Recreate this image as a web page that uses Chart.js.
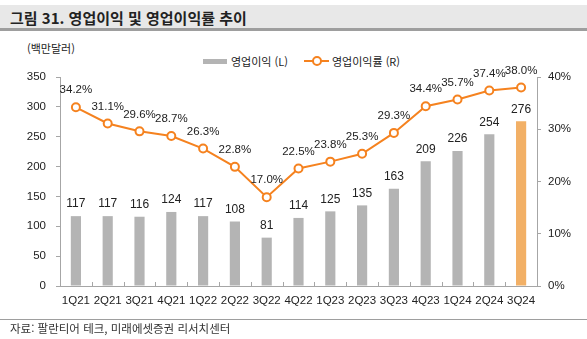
<!DOCTYPE html>
<html lang="ko">
<head>
<meta charset="utf-8">
<script src="https://cdn.jsdelivr.net/npm/chart.js@4.4.1/dist/chart.umd.min.js"></script>
<style>
  html, body { margin: 0; padding: 0; background: #fff; }
  body { width: 587px; height: 339px; position: relative; overflow: hidden;
         font-family: 'Liberation Sans', 'Noto Sans CJK KR', sans-serif; color: #222; }
  #chart { position: absolute; left: 0; top: 0; }
  .title { position: absolute; left: 0; top: 5px; width: 587px; height: 26px;
           background: #e8e8e8; border-bottom: 3px solid #9e9e9e;
           font-family: 'Noto Sans CJK KR', sans-serif; font-weight: bold; font-size: 15px;
           line-height: 26px; padding-left: 10px; box-sizing: border-box; }
  .unit { position: absolute; left: 27px; top: 40px; font-size: 11px;
          font-family: 'Noto Sans CJK KR', sans-serif; }
  .legend { position: absolute; left: 203px; top: 51px; font-size: 11px; white-space: nowrap;
            font-family: 'Noto Sans CJK KR', sans-serif; }
  .legend span { display: inline-block; vertical-align: middle; }
  .sw-bar { width: 24px; height: 5px; background: #b4b4b4; margin-right: 4px; }
  .sw-line { width: 25px; height: 2px; background: #f5821f; position: relative; margin: 0 3px 0 16px; }
  .sw-line::after { content: ''; position: absolute; left: 8px; top: -4px; width: 6px; height: 6px;
                    border: 2px solid #f5821f; border-radius: 50%; background: #fff; }
  .sep { position: absolute; left: 0; top: 319px; width: 587px; height: 1px; background: #9e9e9e; }
  .source { position: absolute; left: 10px; top: 320px; font-size: 11.5px;
            font-family: 'Noto Sans CJK KR', sans-serif; color: #333; }
</style>
</head>
<body>
<div class="title">그림 31. 영업이익 및 영업이익률 추이</div>
<div class="unit">(백만달러)</div>
<div class="legend"><span class="sw-bar"></span><span>영업이익 (L)</span><span class="sw-line"></span><span>영업이익률 (R)</span></div>
<canvas id="chart" width="587" height="339"></canvas>
<div class="sep"></div>
<div class="source">자료: 팔란티어 테크, 미래에셋증권 리서치센터</div>
<script>
const quarters = ['1Q21', '2Q21', '3Q21', '4Q21', '1Q22', '2Q22', '3Q22', '4Q22',
                  '1Q23', '2Q23', '3Q23', '4Q23', '1Q24', '2Q24', '3Q24'];
const operatingIncome = [117, 117, 116, 124, 117, 108, 81, 114, 125, 135, 163, 209, 226, 254, 276];
const operatingMargin = [34.2, 31.1, 29.6, 28.7, 26.3, 22.8, 17.0, 22.5, 23.8, 25.3, 29.3, 34.4, 35.7, 37.4, 38.0];
const leftTicks = { min: 0, max: 350, step: 50 };
const rightTicks = { min: 0, max: 40, step: 10 };

const GREY = '#b4b4b4';
const HIGHLIGHT = '#f2b066';
const ORANGE = '#f5821f';
const AXIS = '#a6a6a6';
const NUM_FONT = "'Liberation Sans', Arial, sans-serif";

// value labels above bars and line points
const valueLabels = {
  id: 'valueLabels',
  afterDatasetsDraw(chart) {
    const ctx = chart.ctx;
    ctx.save();
    ctx.fillStyle = '#222';
    ctx.textAlign = 'center';
    ctx.textBaseline = 'middle';
    chart.data.datasets.forEach((ds, i) => {
      const meta = chart.getDatasetMeta(i);
      const isLine = ds.type === 'line';
      ctx.font = (isLine ? '11.5px ' : '12px ') + NUM_FONT;
      meta.data.forEach((el, j) => {
        const v = ds.data[j];
        const text = isLine ? v.toFixed(1) + '%' : String(v);
        ctx.fillText(text, el.x, el.y - (isLine ? 17 : 12));
      });
    });
    ctx.restore();
  }
};

// short upward tick marks between categories on the x axis
const categoryTicks = {
  id: 'categoryTicks',
  afterDraw(chart) {
    const x = chart.scales.x;
    const area = chart.chartArea;
    const n = quarters.length;
    const w = (area.right - area.left) / n;
    const ctx = chart.ctx;
    ctx.save();
    ctx.strokeStyle = AXIS;
    ctx.lineWidth = 1;
    ctx.beginPath();
    for (let k = 1; k < n; k++) {
      const px = Math.round(x.getPixelForValue(k) - w / 2) + 0.5;
      ctx.moveTo(px, area.bottom);
      ctx.lineTo(px, area.bottom - 4);
    }
    ctx.stroke();
    ctx.restore();
  }
};

new Chart(document.getElementById('chart'), {
  data: {
    labels: quarters,
    datasets: [
      {
        type: 'line',
        label: '영업이익률 (R)',
        data: operatingMargin,
        yAxisID: 'y1',
        order: 0,
        borderColor: ORANGE,
        borderWidth: 2,
        pointRadius: 4,
        pointBorderWidth: 2,
        pointBackgroundColor: '#fff',
        pointBorderColor: ORANGE,
        tension: 0
      },
      {
        type: 'bar',
        label: '영업이익 (L)',
        data: operatingIncome,
        yAxisID: 'y',
        order: 1,
        backgroundColor: operatingIncome.map((v, i) => i === operatingIncome.length - 1 ? HIGHLIGHT : GREY),
        barPercentage: 0.32,
        categoryPercentage: 1
      }
    ]
  },
  options: {
    responsive: false,
    animation: false,
    layout: { padding: { top: 77, left: 0, right: 0, bottom: 0 } },
    plugins: { legend: { display: false }, tooltip: { enabled: false } },
    scales: {
      x: {
        grid: { display: false, drawTicks: false },
        border: { color: AXIS, width: 1 },
        ticks: { color: '#222', font: { size: 11.5, family: NUM_FONT }, padding: 8, maxRotation: 0, autoSkip: false },
        afterFit(scale) { scale.height = 53; }
      },
      y: {
        position: 'left',
        min: leftTicks.min, max: leftTicks.max,
        grid: { drawOnChartArea: false, tickLength: 4, color: AXIS },
        border: { color: AXIS, width: 1 },
        ticks: { stepSize: leftTicks.step, color: '#222', font: { size: 11.5, family: NUM_FONT }, padding: 10 },
        afterFit(scale) { scale.width = 60; }
      },
      y1: {
        position: 'right',
        min: rightTicks.min, max: rightTicks.max,
        grid: { drawOnChartArea: false, tickLength: 4, color: AXIS },
        border: { color: AXIS, width: 1 },
        ticks: { stepSize: rightTicks.step, color: '#222', font: { size: 11.5, family: NUM_FONT }, padding: 7,
                 callback: v => v + '%' },
        afterFit(scale) { scale.width = 50; }
      }
    }
  },
  plugins: [valueLabels, categoryTicks]
});
</script>
</body>
</html>
